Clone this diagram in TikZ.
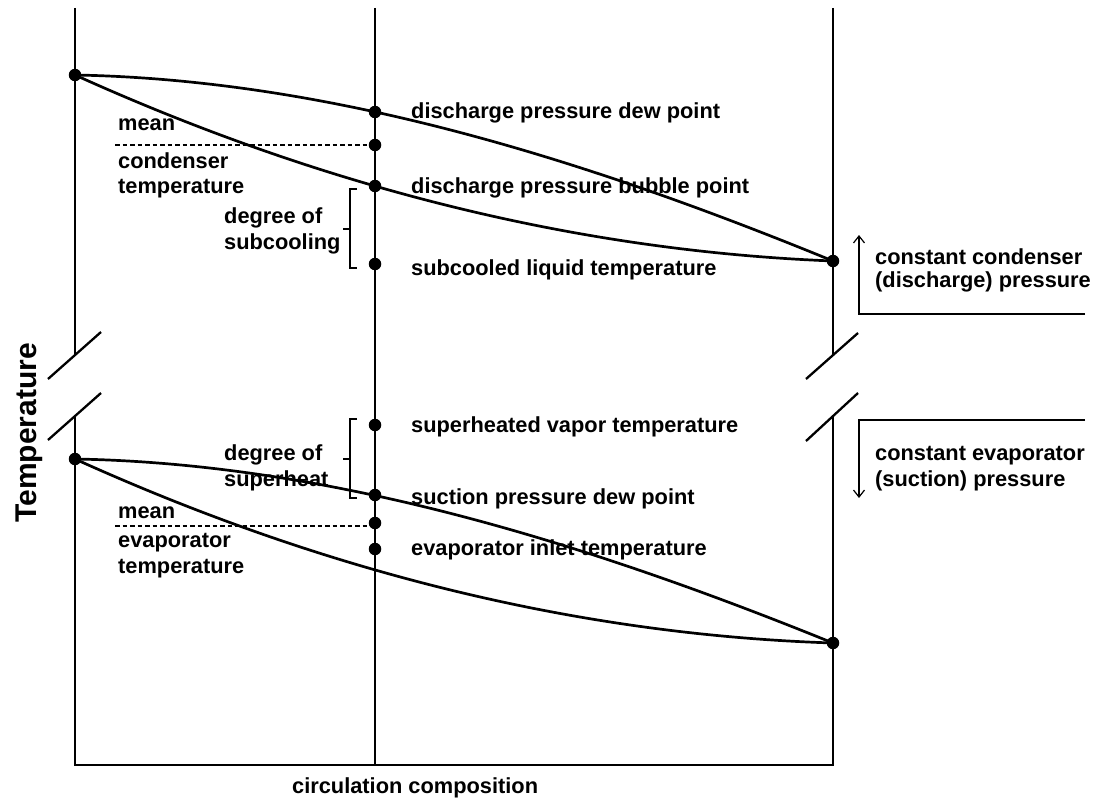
\documentclass[tikz,border=0pt]{standalone}
\usepackage{fontspec}
\setmainfont{Liberation Sans}
\usetikzlibrary{arrows.meta}
\begin{document}
\begin{tikzpicture}[x=1pt,y=-1pt,
  axis/.style={line width=2.9pt},
  curve/.style={line width=2.7pt},
  thinline/.style={line width=1.3pt},
  brace/.style={line width=1.8pt},
  brk/.style={line width=2.3pt},
  dot/.style={circle,fill=black,inner sep=0pt,minimum size=12.5pt},
  lbl/.style={anchor=base west,inner sep=0pt,font=\bfseries\fontsize{21.8}{25}\selectfont},
  meanline/.style={line width=1.1pt,dash pattern=on 4.5pt off 3pt},
  arr/.style={line width=1.2pt,-{Straight Barb[length=7pt,width=11pt]}}]
\useasboundingbox (0,0) rectangle (1099,800);

% axes
\coordinate (LT) at (75,8);
\coordinate (LB1) at (75,356);
\coordinate (LB2) at (75,416);
\coordinate (LO) at (75,765);
\coordinate (RT) at (833,8);
\coordinate (RB1) at (833,356);
\coordinate (RB2) at (833,417);
\coordinate (RO) at (833,765);
\coordinate (MT) at (375,8);
\coordinate (MB) at (375,765);

\draw[thinline] (MT) -- (MB);
\draw[axis] (LT) -- (LB1);
\draw[axis] (LB2) -- (LO) -- (RO) -- (RB2);
\draw[axis] (RT) -- (RB1);

% break marks
\draw[brk] (48,379) -- (101,332);
\draw[brk] (48,440) -- (101,393);
\draw[brk] (806,379) -- (858,333);
\draw[brk] (806,441) -- (858,393);

% dots
\node[dot] (cL) at (75,75) {};
\node[dot] (cR) at (833,261) {};
\node[dot] (cDew) at (375,112) {};
\node[dot] (cMean) at (375,145) {};
\node[dot] (cBub) at (375,186) {};
\node[dot] (cSub) at (375,264) {};
\node[dot] (eL) at (75,459) {};
\node[dot] (eR) at (833,643) {};
\node[dot] (eSup) at (375,425) {};
\node[dot] (eDew) at (375,495) {};
\node[dot] (eMean) at (375,523) {};
\node[dot] (eIn) at (375,549) {};

% curves
\draw[curve] (cL.center) .. controls (327.7,79.6) and (580.3,157.4) .. (cR.center);
\draw[curve] (cL.center) .. controls (327.7,189.2) and (580.3,251.1) .. (cR.center);
\draw[curve] (eL.center) .. controls (327.7,463.5) and (580.3,540.5) .. (eR.center);
\draw[curve] (eL.center) .. controls (327.7,573.4) and (580.3,634.8) .. (eR.center);

% mean lines
\coordinate (cMeanL) at (115,145);
\draw[meanline] (cMeanL) -- (cMean.west);
\coordinate (eMeanL) at (115,526);
\coordinate (eMeanR) at (368,526);
\draw[meanline] (eMeanL) -- (eMeanR);

% brackets
\draw[brace] (357,189) -- (350,189) -- (350,268) -- (357,268);
\draw[brace] (343,229) -- (350,229);
\draw[brace] (357,419) -- (350,419) -- (350,498) -- (357,498);
\draw[brace] (343,459) -- (350,459);

% arrows
\coordinate (uaE) at (1085,314);
\coordinate (uaC) at (859,314);
\coordinate (uaT) at (859,235);
\draw[arr] (uaE) -- (uaC) -- (uaT);
\coordinate (daE) at (1085,420);
\coordinate (daC) at (859,420);
\coordinate (daT) at (859,498);
\draw[arr] (daE) -- (daC) -- (daT);

% labels at middle line
\node[lbl] (tDew) at (411,118) {discharge pressure dew point};
\node[lbl] (tBub) at (411,193) {discharge pressure bubble point};
\node[lbl] (tSub) at (411,275) {subcooled liquid temperature};
\node[lbl] (tSup) at (411,432) {superheated vapor temperature};
\node[lbl] (tSuc) at (411,504) {suction pressure dew point};
\node[lbl] (tIn) at (411,555) {evaporator inlet temperature};

% left labels
\node[lbl] (m1) at (118,130) {mean};
\node[lbl] (m2) at (118,168) {condenser};
\node[lbl] (m3) at (118,193) {temperature};
\node[lbl] (d1) at (224,223) {degree of};
\node[lbl] (d2) at (224,249) {subcooling};
\node[lbl] (s1) at (224,460) {degree of};
\node[lbl] (s2) at (224,486) {superheat};
\node[lbl] (n1) at (118,518) {mean};
\node[lbl] (n2) at (118,547) {evaporator};
\node[lbl] (n3) at (118,573) {temperature};

% right labels
\node[lbl] (r1) at (875,264) {constant condenser};
\node[lbl] (r2) at (875,287) {(discharge) pressure};
\node[lbl] (r3) at (875,460) {constant evaporator};
\node[lbl] (r4) at (875,486) {(suction) pressure};

% axis labels
\node[font=\bfseries\fontsize{30}{33}\selectfont,rotate=90,anchor=base,inner sep=0pt] (ylab) at (36,433) {Temperature};
\node[lbl] (xlab) at (292,793) {circulation composition};
\end{tikzpicture}
\end{document}
